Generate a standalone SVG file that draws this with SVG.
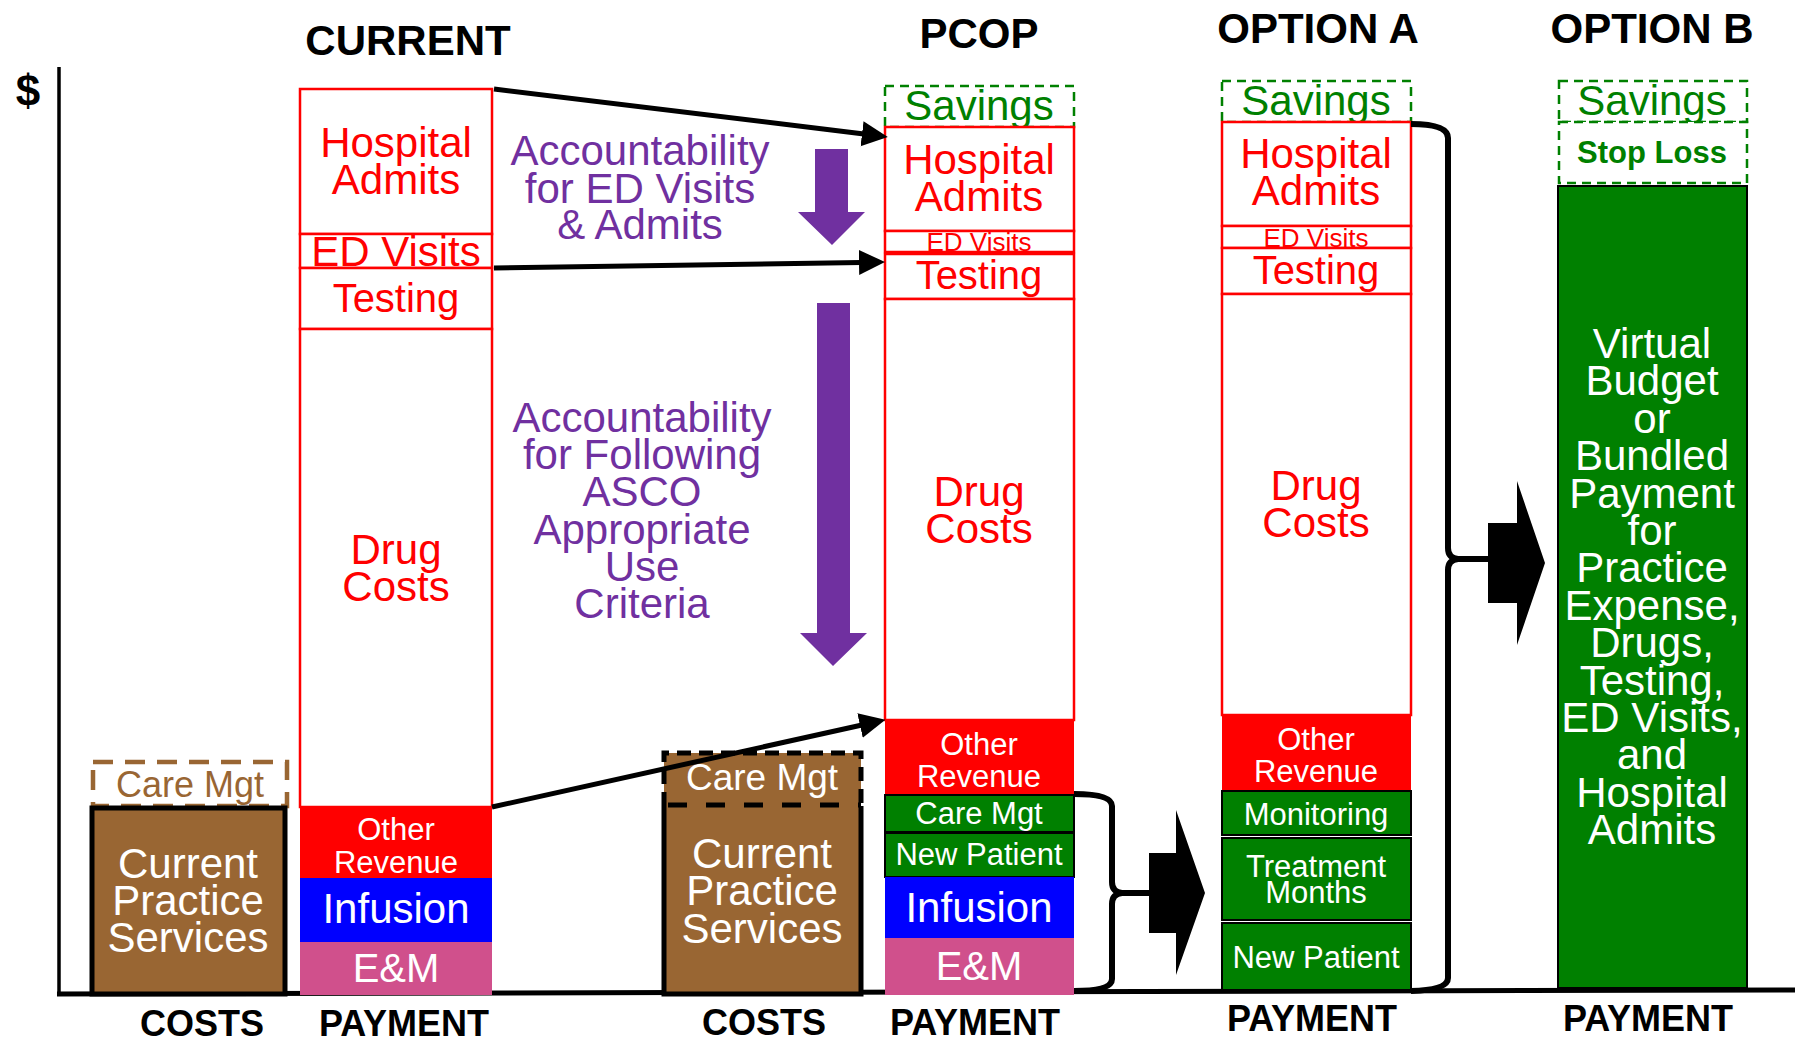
<svg xmlns="http://www.w3.org/2000/svg" width="1795" height="1041" viewBox="0 0 1795 1041">
<defs>
<style>
text{font-family:"Liberation Sans",Arial,sans-serif;text-anchor:middle}
.title{font-weight:bold;font-size:42px;fill:#000}
.lbl{font-weight:bold;font-size:36px;fill:#000}
.red{fill:#ff0000}
.wt{fill:#fff}
.pur{fill:#7030a0;font-size:42px}
.seg{fill:#fff;stroke:#ff0000;stroke-width:2.5}
.sav{fill:#fff;stroke:#008000;stroke-width:2.5;stroke-dasharray:9 6}
.gtx{fill:#008000}
.gbox{fill:#008000;stroke:#000;stroke-width:2}
.conn{stroke:#000;stroke-width:5;fill:none}
.brace{stroke:#000;stroke-width:6;fill:none;stroke-linejoin:round}
.f42{font-size:42px}.f40{font-size:40px}.f31{font-size:31px}.f26{font-size:26px}
</style>
<marker id="ah" markerUnits="userSpaceOnUse" markerWidth="27" markerHeight="26" refX="2" refY="12.5" orient="auto">
<path d="M0,0 L26,12.5 L0,25 Z" fill="#000"/>
</marker>
</defs>
<rect width="1795" height="1041" fill="#fff"/>

<g id="axes">
<line x1="59" y1="67" x2="59" y2="995" stroke="#000" stroke-width="3.5"/>
<line x1="57" y1="994" x2="1795" y2="990" stroke="#000" stroke-width="5"/>
<text x="28" y="106" style="font-weight:bold;font-size:44px">$</text>
</g>

<g id="titles">
<text class="title" x="408" y="55">CURRENT</text>
<text class="title" x="979" y="48">PCOP</text>
<text class="title" x="1318" y="43">OPTION A</text>
<text class="title" x="1652" y="43">OPTION B</text>
<text class="lbl" x="202" y="1036">COSTS</text>
<text class="lbl" x="404" y="1036">PAYMENT</text>
<text class="lbl" x="764" y="1035">COSTS</text>
<text class="lbl" x="975" y="1035">PAYMENT</text>
<text class="lbl" x="1312" y="1031">PAYMENT</text>
<text class="lbl" x="1648" y="1031">PAYMENT</text>
</g>

<g id="current-costs">
<rect x="93" y="762" width="194" height="44" fill="#fff" stroke="#996633" stroke-width="4.5" stroke-dasharray="20 12"/>
<text x="190" y="797" style="font-size:36px;fill:#996633">Care Mgt</text>
<rect x="92" y="808" width="193" height="186" fill="#996633" stroke="#000" stroke-width="5"/>
<text class="wt f42" x="188" y="878">Current</text>
<text class="wt f42" x="188" y="915">Practice</text>
<text class="wt f42" x="188" y="952">Services</text>
</g>

<g id="current-payment">
<rect class="seg" x="300" y="89" width="192" height="145"/>
<text class="red f42" x="396" y="157">Hospital</text>
<text class="red f42" x="396" y="194">Admits</text>
<rect class="seg" x="300" y="234" width="192" height="34"/>
<text class="red f42" x="396" y="266">ED Visits</text>
<rect class="seg" x="300" y="268" width="192" height="61"/>
<text class="red f40" x="396" y="312">Testing</text>
<rect class="seg" x="300" y="329" width="192" height="478"/>
<text class="red f42" x="396" y="564">Drug</text>
<text class="red f42" x="396" y="601">Costs</text>
<rect x="300" y="807" width="192" height="71" fill="#ff0000"/>
<text class="wt f31" x="396" y="840">Other</text>
<text class="wt f31" x="396" y="873">Revenue</text>
<rect x="300" y="878" width="192" height="64" fill="#0000ff"/>
<text class="wt f42" x="396" y="923">Infusion</text>
<rect x="300" y="942" width="192" height="53" fill="#d0508c"/>
<text class="wt f40" x="396" y="982">E&amp;M</text>
</g>

<g id="pcop-costs">
<rect x="664" y="753" width="197" height="241" fill="#996633"/>
<path d="M664,806 L664,753 L861,753 L861,806" fill="none" stroke="#000" stroke-width="5" stroke-dasharray="14 8"/>
<line x1="664" y1="805" x2="861" y2="805" stroke="#000" stroke-width="5" stroke-dasharray="19 19" stroke-dashoffset="-4"/>
<path d="M664,806 L664,994 L861,994 L861,806" fill="none" stroke="#000" stroke-width="5"/>
<text class="wt" x="762" y="790" style="font-size:37px">Care Mgt</text>
<text class="wt f42" x="762" y="868">Current</text>
<text class="wt f42" x="762" y="905">Practice</text>
<text class="wt f42" x="762" y="943">Services</text>
</g>

<g id="pcop-payment">
<rect class="sav" x="885" y="86" width="189" height="41"/>
<text class="gtx f42" x="979" y="120">Savings</text>
<rect class="seg" x="885" y="127" width="189" height="104"/>
<text class="red f42" x="979" y="174">Hospital</text>
<text class="red f42" x="979" y="211">Admits</text>
<rect class="seg" x="885" y="231" width="189" height="21"/>
<text class="red f26" x="979" y="251">ED Visits</text>
<rect class="seg" x="885" y="254" width="189" height="45"/>
<text class="red f40" x="979" y="289">Testing</text>
<rect class="seg" x="885" y="299" width="189" height="421"/>
<text class="red f42" x="979" y="506">Drug</text>
<text class="red f42" x="979" y="543">Costs</text>
<rect x="885" y="720" width="189" height="75" fill="#ff0000"/>
<text class="wt f31" x="979" y="755">Other</text>
<text class="wt f31" x="979" y="787">Revenue</text>
<rect class="gbox" x="885" y="795" width="189" height="37"/>
<text class="wt f31" x="979" y="824">Care Mgt</text>
<rect class="gbox" x="885" y="833" width="189" height="44"/>
<text class="wt f31" x="979" y="865">New Patient</text>
<rect x="885" y="877" width="189" height="61" fill="#0000ff"/>
<text class="wt f42" x="979" y="922">Infusion</text>
<rect x="885" y="938" width="189" height="57" fill="#d0508c"/>
<text class="wt f40" x="979" y="980">E&amp;M</text>
</g>

<g id="optionA-payment">
<rect class="sav" x="1222" y="81" width="189" height="41"/>
<text class="gtx f42" x="1316" y="115">Savings</text>
<rect class="seg" x="1222" y="122" width="189" height="104"/>
<text class="red f42" x="1316" y="168">Hospital</text>
<text class="red f42" x="1316" y="205">Admits</text>
<rect class="seg" x="1222" y="226" width="189" height="22"/>
<text class="red f26" x="1316" y="247">ED Visits</text>
<rect class="seg" x="1222" y="248" width="189" height="46"/>
<text class="red f40" x="1316" y="284">Testing</text>
<rect class="seg" x="1222" y="294" width="189" height="421"/>
<text class="red f42" x="1316" y="500">Drug</text>
<text class="red f42" x="1316" y="537">Costs</text>
<rect x="1222" y="715" width="189" height="75" fill="#ff0000"/>
<text class="wt f31" x="1316" y="750">Other</text>
<text class="wt f31" x="1316" y="782">Revenue</text>
<rect class="gbox" x="1222" y="791" width="189" height="44"/>
<text class="wt f31" x="1316" y="825">Monitoring</text>
<rect class="gbox" x="1222" y="838" width="189" height="82"/>
<text class="wt f31" x="1316" y="877">Treatment</text>
<text class="wt f31" x="1316" y="903">Months</text>
<rect class="gbox" x="1222" y="923" width="189" height="67"/>
<text class="wt f31" x="1316" y="968">New Patient</text>
</g>

<g id="optionB-payment">
<rect class="sav" x="1559" y="81" width="188" height="41"/>
<text class="gtx f42" x="1652" y="115">Savings</text>
<rect class="sav" x="1559" y="122" width="188" height="61"/>
<text class="gtx" x="1652" y="163" style="font-weight:bold;font-size:31px">Stop Loss</text>
<rect class="gbox" x="1558" y="186" width="189" height="802"/>
<g class="wt f42">
<text x="1652" y="358">Virtual</text>
<text x="1652" y="395">Budget</text>
<text x="1652" y="433">or</text>
<text x="1652" y="470">Bundled</text>
<text x="1652" y="508">Payment</text>
<text x="1652" y="545">for</text>
<text x="1652" y="582">Practice</text>
<text x="1652" y="620">Expense,</text>
<text x="1652" y="657">Drugs,</text>
<text x="1652" y="695">Testing,</text>
<text x="1652" y="732">ED Visits,</text>
<text x="1652" y="769">and</text>
<text x="1652" y="807">Hospital</text>
<text x="1652" y="844">Admits</text>
</g>
</g>

<g id="accountability-ed">
<text class="pur" x="640" y="165">Accountability</text>
<text class="pur" x="640" y="203">for ED Visits</text>
<text class="pur" x="640" y="239">&amp; Admits</text>
<polygon points="815,149 848,149 848,212 865,212 832,245 798,212 815,212" fill="#7030a0"/>
</g>

<g id="accountability-asco">
<text class="pur" x="642" y="432">Accountability</text>
<text class="pur" x="642" y="469">for Following</text>
<text class="pur" x="642" y="506">ASCO</text>
<text class="pur" x="642" y="544">Appropriate</text>
<text class="pur" x="642" y="581">Use</text>
<text class="pur" x="642" y="618">Criteria</text>
<polygon points="817,303 850,303 850,633 867,633 833,666 800,633 817,633" fill="#7030a0"/>
</g>

<g id="connectors">
<line class="conn" x1="494" y1="89" x2="864" y2="134" marker-end="url(#ah)"/>
<line class="conn" x1="494" y1="268" x2="861" y2="262.4" marker-end="url(#ah)"/>
<line class="conn" x1="492" y1="807" x2="862" y2="725" marker-end="url(#ah)"/>
<path class="brace" d="M1074,794 Q1112,794 1112,806 L1112,882 Q1112,892 1122,893 L1150,893 M1122,893 Q1112,894 1112,904 L1112,979 Q1112,991 1074,991"/>
<polygon points="1149,853 1176,853 1176,810 1205,893 1176,975 1176,933 1149,933" fill="#000"/>
<path class="brace" d="M1411,124 Q1448,124 1448,138 L1448,548 Q1448,558 1458,559 L1489,559 M1458,559 Q1448,560 1448,570 L1448,978 Q1448,990 1411,991"/>
<polygon points="1488,523 1517,523 1517,481 1545,563 1517,645 1517,603 1488,603" fill="#000"/>
</g>
</svg>
